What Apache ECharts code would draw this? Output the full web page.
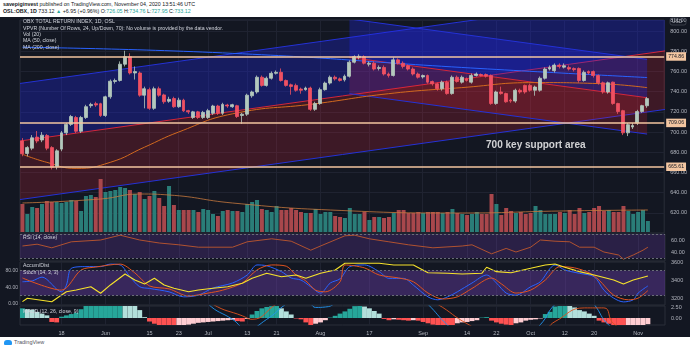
<!DOCTYPE html>
<html>
<head>
<meta charset="utf-8">
<script src="https://cdn.jsdelivr.net/npm/echarts@6/dist/echarts.min.js"></script>
<style>
  body { margin: 0; width: 690px; height: 351px; background: #fff; overflow: hidden; position: relative;
         font-family: 'Liberation Sans', Arial, sans-serif; }
  .hdr { position: absolute; left: 3px; font-size: 5.3px; line-height: 7px; color: #131722; white-space: nowrap; }
  .up { color: #26a69a; }
  #chart { position: absolute; left: 0; top: 17px; width: 690px; height: 320px; background: #131722; }
  #foot { position: absolute; left: 4px; top: 339px; font-size: 5.5px; color: #50535e; display: flex; align-items: center; }
  #foot i { display: inline-block; width: 8px; height: 5px; background: #2196f3; border-radius: 3px 3px 1px 1px; margin-right: 2px; }
</style>
</head>
<body>
<div class="hdr" style="top:1px"><b>savepiginvest</b> published on TradingView.com, November 04, 2020 13:51:46 UTC</div>
<div class="hdr" style="top:8px"><b>OSL:OBX, 1D</b> 733.12 <span class="up">▲</span> +6.95 (+0.96%) O:<span class="up">726.05</span> H:<span class="up">734.76</span> L:<span class="up">727.95</span> C:<span class="up">733.12</span></div>
<div id="chart"></div>
<div id="foot"><i></i>TradingView</div>
<script>
// trading days (Oslo), plus three empty days of right margin
const holidays = ['2020-05-21', '2020-06-01'];
const dates = [];
for (let t = Date.UTC(2020, 4, 6); t <= Date.UTC(2020, 10, 9); t += 86400000) {
  const d = new Date(t);
  const s = d.toISOString().slice(0, 10);
  if (d.getUTCDay() % 6 === 0 || holidays.includes(s)) continue;
  dates.push(s);
}

const tickDates = ['2020-05-18', '2020-06-02', '2020-06-15', '2020-06-23', '2020-07-01', '2020-07-13', '2020-07-21',
  '2020-08-03', '2020-08-17', '2020-09-01', '2020-09-14', '2020-09-22', '2020-10-01', '2020-10-12', '2020-10-20', '2020-11-02'];
const tickTexts = ['18', 'Jun', '15', '23', 'Jul', '13', '21', 'Aug', '17', 'Sep', '14', '22', 'Oct', '12', '20', 'Nov'];

const opens = [691.1, 678.8, 684.0, 695.0, 692.1, 696.6, 684.6, 665.8, 683.1, 699.2, 707.6, 714.4, 700.8, 714.4, 726.1, 728.1, 728.1, 716.4, 734.9, 750.1,
  751.1, 767.2, 774.7, 758.5, 758.5, 736.5, 742.0, 723.5, 742.9, 736.8, 730.5, 733.2, 725.1, 731.6, 721.2, 714.4, 720.0, 714.4, 714.4, 718.6,
  725.8, 718.6, 726.8, 725.1, 726.1, 716.4, 717.7, 735.9, 739.7, 754.3, 746.2, 753.3, 758.2, 759.2, 751.1, 746.8, 746.2, 742.6, 742.0, 743.6,
  722.5, 728.3, 742.0, 748.5, 754.3, 752.7, 751.7, 755.3, 769.2, 774.0, 774.7, 767.2, 768.2, 763.0, 764.0, 757.5, 756.0, 771.5, 768.2, 765.7,
  762.4, 757.5, 754.6, 756.0, 750.1, 747.8, 742.9, 749.4, 738.1, 754.3, 749.4, 752.7, 749.4, 756.0, 757.0, 757.0, 756.0, 728.3, 739.7, 738.1,
  731.6, 730.7, 741.4, 746.2, 746.2, 741.4, 741.4, 753.3, 762.4, 760.8, 766.3, 764.3, 764.0, 763.0, 763.0, 751.1, 759.9, 759.9, 756.0, 748.8,
  739.7, 749.4, 728.3, 721.2, 699.2, 705.0, 708.9, 720.3, 726.05];
const closes = [678.5, 684.6, 694.3, 691.1, 696.9, 684.0, 665.2, 681.4, 699.2, 707.6, 715.4, 700.8, 714.4, 725.1, 727.4, 726.8, 716.4, 734.9, 750.4, 751.1,
  767.2, 774.7, 758.5, 759.9, 736.5, 742.9, 723.5, 742.9, 736.5, 730.0, 732.4, 725.1, 731.6, 721.0, 720.0, 720.0, 714.4, 719.5, 721.2, 725.8,
  718.6, 727.4, 725.8, 727.1, 715.4, 717.7, 736.5, 739.7, 754.3, 746.2, 753.3, 758.2, 759.2, 751.1, 746.2, 745.2, 741.4, 741.4, 743.6, 722.5,
  728.3, 742.0, 748.5, 754.3, 752.7, 751.1, 755.3, 769.2, 774.7, 775.0, 768.2, 768.2, 762.4, 764.0, 757.5, 756.0, 771.5, 768.2, 765.0, 762.4,
  757.5, 754.3, 756.0, 749.4, 747.8, 742.9, 749.4, 738.1, 754.3, 750.1, 754.3, 751.1, 756.0, 757.5, 756.0, 755.3, 728.3, 739.7, 738.1, 730.0,
  730.7, 741.4, 739.7, 739.7, 741.4, 744.6, 753.3, 762.4, 764.0, 766.3, 765.0, 765.7, 762.4, 761.8, 751.1, 759.2, 758.5, 756.0, 748.8, 739.7,
  748.8, 728.3, 720.3, 699.2, 707.3, 706.5, 720.3, 726.17, 733.12];
const lows = [676, 676, 682, 689, 690, 682, 663, 663, 681, 697, 706, 699, 699, 713, 724, 725, 715, 715, 733, 748,
  750, 765, 757, 752, 735, 723.5, 722, 722, 735, 728, 729, 724, 724, 720, 718, 713, 713, 713, 713, 717,
  717, 717, 724, 724, 714, 708, 716, 734, 738, 745, 745, 752, 757, 750, 745, 737, 740, 738, 741, 721,
  721, 727, 741, 747, 751, 750, 750, 754, 768, 772, 767, 765, 761, 761, 756, 754, 755, 767, 763, 761,
  756, 753, 753, 748, 746, 741, 741, 737, 737, 749, 748, 750, 748, 755, 755, 754, 727, 727, 737, 729,
  729, 729, 738, 738, 740, 736, 740, 752, 761, 759, 763, 763, 761, 760, 749, 750, 757, 754, 747, 738,
  738, 727, 718, 697, 696, 703, 707, 719, 724];
const highs = [694, 686, 697, 701, 700, 698, 686, 683, 701, 709, 717, 716, 716, 727, 729, 730, 729, 736, 752, 753,
  770, 780.5, 778, 765, 760, 745, 744, 745, 745, 738, 735, 735, 734, 733, 722, 721, 721, 721, 723, 727,
  727, 729, 728, 728, 727, 719, 738, 741, 756, 756, 755, 760, 761, 763, 752, 748, 748, 744, 745, 745,
  730, 744, 750, 756, 756, 754, 757, 771, 776, 777, 776, 770, 770, 766, 766, 759, 774, 773, 770, 767,
  764, 759, 757, 757, 751, 749, 751, 751, 756, 756, 756, 754, 758, 759, 758, 758, 757, 741, 745, 739,
  733, 743, 743, 747, 748, 746, 755, 764, 766, 768, 768, 768, 766, 764, 764, 761, 761, 761, 757, 750,
  750, 750, 729, 722, 709, 709, 722, 727, 734.76];

const volumes = [28, 18, 25, 24, 28, 31, 30, 30, 29, 30, 32, 31, 21, 36, 37, 35, 53, 40, 41, 42,
  45, 44, 42, 38, 40, 33, 36, 41, 34, 26, 46, 27, 22, 22, 22, 22, 20, 23, 22, 18,
  16, 21, 22, 21, 21, 20, 28, 30, 32, 23, 22, 20, 26, 22, 22, 24, 22, 20, 19, 19,
  23, 18, 20, 20, 16, 15, 14, 24, 18, 18, 20, 12, 15, 15, 14, 15, 19, 22, 22, 19,
  19, 20, 19, 20, 20, 20, 19, 20, 23, 19, 18, 17, 18, 20, 18, 18, 38, 28, 17, 24,
  21, 19, 20, 18, 19, 26, 22, 18, 18, 18, 20, 19, 22, 18, 24, 19, 20, 24, 26, 21,
  22, 20, 20, 26, 21, 18, 20, 22, 11];
const volMa = [[0, 29], [16, 33], [24, 38], [30, 37], [43, 29], [63, 22], [90, 19], [110, 21], [128, 22]];

const ma50 = [[0, 678], [5, 670], [11, 664], [18, 670], [25, 685], [32, 700], [43, 718], [60, 728], [75, 738], [90, 744], [105, 749], [118, 748], [128, 744]];
const ma200 = [[0, 784], [43, 778], [90, 764], [128, 754]];

const rsi = [[0, 50], [3, 53], [6, 47], [10, 57], [16, 60], [20, 68], [24, 60], [28, 55], [32, 52], [36, 48], [43, 48], [46, 57], [51, 62],
  [55, 58], [59, 43], [61, 50], [66, 67], [68, 68], [71, 62], [75, 57], [79, 52], [84, 47], [90, 50], [92, 52], [96, 37], [99, 46],
  [101, 40], [104, 48], [106, 60], [109, 58], [112, 57], [114, 48], [117, 48], [119, 40], [122, 35], [123, 28], [125, 35], [127, 43], [128, 48]];

const stochK = [[0, 53], [2, 55], [4, 64], [8, 29], [9, 45], [10, 85], [13, 89], [16, 89], [18, 95], [20, 93], [22, 65], [24, 41], [26, 37],
  [30, 29], [33, 17], [36, 21], [39, 38], [43, 50], [46, 69], [48, 93], [50, 91], [53, 77], [55, 62], [57, 57], [59, 41], [61, 26],
  [63, 50], [65, 60], [67, 89], [70, 93], [73, 77], [75, 61], [78, 61], [80, 45], [83, 17], [85, 10], [87, 17], [89, 29], [92, 50],
  [95, 69], [97, 50], [99, 26], [101, 21], [104, 41], [106, 53], [108, 85], [109, 93], [111, 81], [114, 73], [117, 65], [119, 33],
  [121, 14], [123, 5], [125, 10], [126, 26], [128, 43]];
const stochD = [[0, 62], [8, 33], [12, 81], [15, 88], [20, 95], [23, 74], [26, 43], [30, 36], [34, 19], [38, 26], [41, 33], [45, 50],
  [48, 81], [51, 93], [54, 90], [56, 69], [58, 55], [60, 33], [62, 29], [65, 53], [66, 93], [70, 86], [73, 69], [77, 62], [80, 53],
  [83, 26], [86, 12], [89, 17], [92, 37], [96, 62], [98, 48], [101, 26], [104, 33], [107, 57], [110, 89], [113, 86], [116, 74],
  [118, 57], [121, 21], [124, 10], [126, 14], [128, 32]];
const accumDist = [[0, 3158], [1, 3197], [6, 3158], [8, 3234], [9, 3272], [11, 3291], [14, 3329], [16, 3254], [18, 3349], [21, 3474],
  [23, 3406], [25, 3360], [27, 3425], [29, 3349], [31, 3311], [34, 3272], [36, 3291], [39, 3311], [42, 3329], [45, 3368], [47, 3425],
  [50, 3482], [53, 3443], [56, 3463], [58, 3425], [61, 3482], [64, 3520], [66, 3597], [73, 3597], [76, 3577], [80, 3577], [83, 3489],
  [87, 3482], [90, 3474], [94, 3482], [95, 3551], [97, 3501], [100, 3489], [104, 3539], [107, 3577], [109, 3589], [111, 3551],
  [114, 3501], [117, 3463], [121, 3406], [123, 3360], [125, 3406], [128, 3451]];

const macdHist = [2.2, 2.0, 1.9, 1.4, 1.0, 0.6, -0.9, -1.0, 0.3, 0.6, 0.9, 1.2, 2.0, 2.8, 3.1, 3.4, 3.6, 3.8, 4.0, 4.2,
  4.3, 4.1, 3.8, 3.3, 1.8, 0.2, -0.8, -1.3, -1.6, -1.8, -2.0, -2.1, -1.9, -1.7, -1.5, -1.3, -1.1, -1.0, -0.9, -0.8,
  -0.7, -0.6, -0.5, -0.4, -0.7, -0.8, -0.2, 0.8, 1.6, 2.2, 2.5, 2.7, 2.8, 2.2, 1.5, 0.8, -0.1, -0.3, -1.0, -1.6,
  -1.3, -1.0, -0.5, 0.1, 0.5, 1.0, 1.5, 2.1, 2.7, 3.0, 2.6, 2.2, 1.6, 1.0, -0.2, -0.5, -0.3, -0.4, -0.5, -0.6,
  -0.5, -0.6, -0.9, -1.2, -1.5, -1.7, -1.9, -2.0, -2.1, -1.2, -1.0, -0.9, -0.7, -0.5, 0.1, 0.2, -0.6, -1.0, -1.3, -1.5,
  -1.6, -1.2, -1.0, -0.6, -0.4, -0.3, -0.1, 0.9, 1.4, 2.6, 3.0, 3.2, 2.8, 2.4, 1.8, 1.5, 1.0, 0.5, -0.6, -1.0,
  -1.3, -1.6, -1.9, -2.2, -2.0, -1.9, -1.8, -1.6, -1.4];
const macdLine = [[0, 7], [37, 6], [38, 3.2], [43, -0.3], [46, -2.5], [50, -0.3], [54, 3.2], [57, 5], [59, 3.2], [60, 2.4], [62, 2.5],
  [64, 3.3], [66, 5], [80, 6], [83, 3.1], [87, -1.6], [90, -4], [104, -3], [106, -1.5], [109, 3.1], [112, 5], [116, 4], [117, 3.1],
  [120, -1.6], [124, -4], [128, -4]];
const signalLine = [[0, 8], [38, 5], [39, 3.1], [45, 0.5], [47, -0.3], [52, 3.2], [55, 5], [80, 6], [85, 3.1], [91, -1.3], [95, -3],
  [106, -3], [109, -0.8], [115, 2.3], [119, 2.3], [121, -1.3], [125, -3], [128, -3]];

const levels = [774.86, 709.06, 665.61];
const lastPrice = 733.12;
// regression trend drawings: [startIdx, startBase, endIdx, endBase, upperDev, lowerDev]
const channels = [
  [-1, 690.8, 132, 780.6, 57, 58],
  [67, 774, 128, 734, 38, 36]
];
const note = [[95, 687]];

const UP = '#b4c8bd', DOWN = '#ef5062', GRIDC = '#1f2331', TXT = '#b2b5be';
const FONT = "'Liberation Sans', Arial, sans-serif";

const chart = echarts.init(document.getElementById('chart'));

const showTick = (i, v) => tickDates.includes(v);
function xAxisFor(gridIndex, labels) {
  return {
    type: 'category', gridIndex, data: dates, boundaryGap: true,
    axisLine: { show: false }, axisTick: { show: false },
    axisLabel: {
      show: labels, interval: showTick, color: TXT, fontSize: 5.5, fontFamily: FONT, margin: 5,
      formatter: v => tickTexts[tickDates.indexOf(v)]
    },
    splitLine: { show: gridIndex !== 1, interval: showTick, alignWithLabel: true, lineStyle: { color: GRIDC, width: 1 } }
  };
}
const paneGrid = (top, height) => ({ left: 20, right: 25, top, height, show: true, borderColor: '#2a2e39', borderWidth: 1, backgroundColor: 'transparent' });

const candleData = opens.map((o, i) => [o, closes[i], lows[i], highs[i]]);
const volData = volumes.map((v, i) => ({ value: v, itemStyle: { color: closes[i] >= opens[i] ? '#2a7d78' : '#a8474c' } }));
const histData = macdHist.map((v, i) => {
  const p = i ? macdHist[i - 1] : v;
  const c = v >= 0 ? (v >= p ? '#26a69a' : '#b2dfdb') : (v < p ? '#ff5252' : '#ffcdd2');
  return { value: v, itemStyle: { color: c } };
});

const axisLbl = (extra) => Object.assign({ color: TXT, fontSize: 5.5, fontFamily: FONT, margin: 6 }, extra);
const dashed = { color: '#6a6d78', type: [2, 2], width: 1 };

function label(text, x, y, size, color, weight) {
  return { type: 'text', x, y, z: 100, silent: true,
    style: { text, fill: color || '#d1d4dc', font: (weight || 'normal') + ' ' + (size || 5.2) + 'px ' + FONT, verticalAlign: 'middle' } };
}

const option = {
  animation: false,
  backgroundColor: '#131722',
  grid: [paneGrid(0, 216), { left: 20, right: 25, top: 143, height: 72, show: false }, paneGrid(217, 27), paneGrid(245, 43), paneGrid(289, 19)],
  xAxis: [xAxisFor(0, false), xAxisFor(1, false), xAxisFor(2, false), xAxisFor(3, false), xAxisFor(4, true)],
  yAxis: [
    { gridIndex: 0, position: 'right', min: 600, max: 811, interval: 20, axisLine: { show: false }, axisTick: { show: false },
      axisLabel: axisLbl({ formatter: v => (v === 600 ? '' : v.toFixed(2)) }), splitLine: { lineStyle: { color: GRIDC } } },
    { gridIndex: 1, min: 0, max: 72, show: false },
    { gridIndex: 2, position: 'right', min: 25, max: 70, axisLine: { show: false }, axisTick: { show: false },
      axisLabel: axisLbl({ customValues: [40, 60], formatter: v => v.toFixed(2) }), splitLine: { show: false } },
    { gridIndex: 3, position: 'left', min: -2.4, max: 100, axisLine: { show: false }, axisTick: { show: false },
      axisLabel: axisLbl({ customValues: [0, 40, 80], formatter: v => v.toFixed(2), margin: 2, fontSize: 5 }), splitLine: { show: false } },
    { gridIndex: 3, position: 'right', min: 3120, max: 3611, axisLine: { show: false }, axisTick: { show: false },
      axisLabel: axisLbl({ customValues: [3200, 3400, 3600], formatter: v => String(v) }), splitLine: { show: false } },
    { gridIndex: 4, position: 'right', min: -1.59, max: 2.73, axisLine: { show: false }, axisTick: { show: false },
      axisLabel: axisLbl({ customValues: [0, 2.5], formatter: v => v.toFixed(2) }), splitLine: { show: false } }
  ],
  graphic: [
    label('OBX TOTAL RETURN INDEX, 1D, OSL', 23, 5),
    label('VPVR (Number Of Rows, 24, Up/Down, 70): No volume is provided by the data vendor.', 23, 12),
    label('Vol (20)', 23, 18),
    label('MA (50, close)', 23, 24),
    label('MA (200, close)', 23, 31),
    label('RSI (14, close)', 23, 221),
    label('Accum/Dist', 23, 249),
    label('Stoch (14, 3, 3)', 23, 256),
    label('MACD (12, 26, close, 9)', 23, 295),
    { type: 'rect', z: 100, shape: { x: 670, y: 1, width: 16, height: 7, r: 2 }, style: { fill: 'none', stroke: '#434651', lineWidth: 0.8 } },
    label('USD', 672, 4.6, 4.8, TXT)
  ],
  series: [
    {
      type: 'custom', xAxisIndex: 0, yAxisIndex: 0, z: 1, clip: true, silent: true, data: channels,
      renderItem(params, api) {
        const x0 = api.value(0), b0 = api.value(1), x1 = api.value(2), b1 = api.value(3), up = api.value(4), dn = api.value(5);
        const p = (x, y) => api.coord([x, y]);
        const seg = (a, b, color) => ({ type: 'line', shape: { x1: a[0], y1: a[1], x2: b[0], y2: b[1] }, style: { stroke: color, lineWidth: 1 } });
        return {
          type: 'group', children: [
            { type: 'polygon', shape: { points: [p(x0, b0 + up), p(x1, b1 + up), p(x1, b1), p(x0, b0)] }, style: { fill: 'rgba(33,40,243,0.3)' } },
            { type: 'polygon', shape: { points: [p(x0, b0), p(x1, b1), p(x1, b1 - dn), p(x0, b0 - dn)] }, style: { fill: 'rgba(255,40,60,0.18)' } },
            seg(p(x0, b0 + up), p(x1, b1 + up), '#2432d6'),
            seg(p(x0, b0), p(x1, b1), '#d3263a'),
            seg(p(x0, b0 - dn), p(x1, b1 - dn), '#2432d6')
          ]
        };
      }
    },
    { name: 'Vol', type: 'bar', xAxisIndex: 1, yAxisIndex: 1, z: 2, barWidth: '82%', data: volData, silent: true },
    { name: 'Vol MA', type: 'line', xAxisIndex: 1, yAxisIndex: 1, z: 3, data: volMa, smooth: true, showSymbol: false,
      lineStyle: { color: '#c7793d', width: 0.8 }, silent: true },
    { name: 'MA200', type: 'line', xAxisIndex: 0, yAxisIndex: 0, z: 3, data: ma200, smooth: true, showSymbol: false,
      lineStyle: { color: '#2962ff', width: 1 }, silent: true },
    { name: 'MA50', type: 'line', xAxisIndex: 0, yAxisIndex: 0, z: 3, data: ma50, smooth: true, showSymbol: false,
      lineStyle: { color: '#d2691e', width: 1 }, silent: true },
    {
      name: 'OBX', type: 'candlestick', xAxisIndex: 0, yAxisIndex: 0, z: 4, barWidth: 3.4, data: candleData,
      itemStyle: { color: UP, color0: DOWN, borderColor: UP, borderColor0: DOWN, borderWidth: 0.8 },
      markLine: {
        silent: true, symbol: 'none', animation: false,
        data: levels.map(v => ({ yAxis: v }))
          .concat([{ yAxis: lastPrice, lineStyle: { opacity: 0 },
            label: { backgroundColor: '#a9c7b9', formatter: lastPrice.toFixed(2) + '\n07:28:14' } }]),
        lineStyle: { color: '#f3c6a1', width: 1.6, type: 'solid' },
        label: { position: 'end', distance: 2, formatter: p => p.value.toFixed(2), backgroundColor: '#f3c6a1', color: '#131722',
          fontSize: 5.2, fontFamily: FONT, padding: [1, 2], lineHeight: 6.5 }
      }
    },
    {
      type: 'scatter', xAxisIndex: 0, yAxisIndex: 0, z: 5, symbolSize: 0, data: note, silent: true,
      label: { show: true, position: 'right', distance: 0, formatter: '700 key support area', color: '#ffffff',
        fontSize: 10, fontWeight: 'bold', fontFamily: FONT }
    },
    {
      name: 'RSI', type: 'line', xAxisIndex: 2, yAxisIndex: 2, data: rsi, showSymbol: false, silent: true,
      lineStyle: { color: '#c0582e', width: 0.9 },
      markArea: { silent: true, itemStyle: { color: 'rgba(126,70,200,0.22)' }, data: [[{ yAxis: 30 }, { yAxis: 70 }]] },
      markLine: { silent: true, symbol: 'none', label: { show: false }, lineStyle: dashed, data: [{ yAxis: 30 }, { yAxis: 70 }] }
    },
    {
      name: '%K', type: 'line', xAxisIndex: 3, yAxisIndex: 3, data: stochK, smooth: 0.3, showSymbol: false, silent: true,
      lineStyle: { color: '#2962ff', width: 1 },
      markArea: { silent: true, itemStyle: { color: 'rgba(126,70,200,0.35)' }, data: [[{ yAxis: 20 }, { yAxis: 80 }]] },
      markLine: { silent: true, symbol: 'none', label: { show: false }, lineStyle: dashed, data: [{ yAxis: 20 }, { yAxis: 80 }] }
    },
    { name: '%D', type: 'line', xAxisIndex: 3, yAxisIndex: 3, data: stochD, smooth: 0.3, showSymbol: false, silent: true,
      lineStyle: { color: '#e0531f', width: 1 } },
    { name: 'Accum/Dist', type: 'line', xAxisIndex: 3, yAxisIndex: 4, data: accumDist, showSymbol: false, silent: true,
      lineStyle: { color: '#f7e32b', width: 1.1 } },
    { name: 'Hist', type: 'bar', xAxisIndex: 4, yAxisIndex: 5, barWidth: '100%', data: histData, silent: true },
    { name: 'MACD', type: 'line', xAxisIndex: 4, yAxisIndex: 5, data: macdLine, smooth: true, showSymbol: false, silent: true,
      lineStyle: { color: '#2196f3', width: 0.9 } },
    { name: 'Signal', type: 'line', xAxisIndex: 4, yAxisIndex: 5, data: signalLine, smooth: true, showSymbol: false, silent: true,
      lineStyle: { color: '#e0531f', width: 0.9 } }
  ]
};

chart.setOption(option);
</script>
</body>
</html>
